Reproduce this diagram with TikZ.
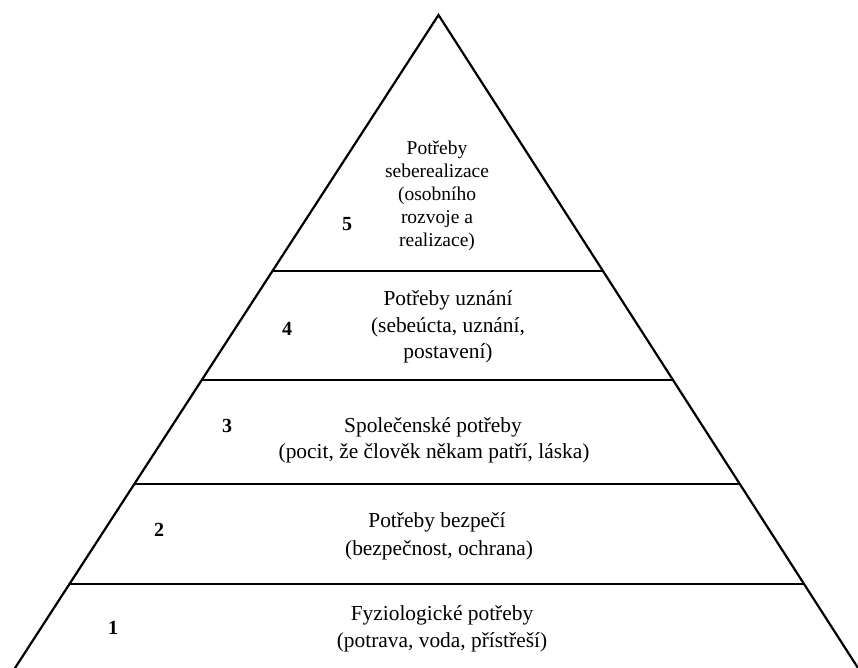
\documentclass[tikz,border=0pt]{standalone}
\usepackage{fontspec}
\setmainfont{Liberation Serif}
\begin{document}
\begin{tikzpicture}[x=1pt,y=-1pt,
  edge/.style={line width=2.2pt,line cap=round,line join=miter},
  sep/.style={line width=1.2pt},
  big/.style={inner sep=0pt,anchor=base,font=\fontsize{21.4}{26.5}\selectfont},
  small/.style={inner sep=0pt,anchor=base,font=\fontsize{19.5}{22.75}\selectfont},
  num/.style={inner sep=0pt,anchor=base,font=\fontsize{20}{24}\selectfont\bfseries}]
\useasboundingbox (0,0) rectangle (858,668);
% triangle corners
\coordinate (apex) at (438.5,15);
\coordinate (bl) at (15,668);
\coordinate (br) at (858,668);
% level separators
\foreach \n/\y in {a/271,b/380,c/484,d/584}{
  \path (apex) -- (bl) coordinate[pos={(\y-15)/653}] (L\n);
  \path (apex) -- (br) coordinate[pos={(\y-15)/653}] (R\n);
  \draw[sep] (L\n) -- (R\n);
}
\draw[edge] (bl) -- (apex) -- (br);
% level 5
\node[small] (t5a) at (437,155) {Potřeby};
\node[small] (t5b) at (437,177.75) {seberealizace};
\node[small] (t5c) at (437,200.5) {(osobního};
\node[small] (t5d) at (437,223.25) {rozvoje a};
\node[small] (t5e) at (437,246) {realizace)};
\node[num] (n5) at (347,230) {5};
% level 4
\node[big] (t4a) at (448,305) {Potřeby uznání};
\node[big] (t4b) at (448,332) {(sebeúcta, uznání,};
\node[big] (t4c) at (448,358) {postavení)};
\node[num] (n4) at (287,335) {4};
% level 3
\node[big] (t3a) at (433,432) {Společenské potřeby};
\node[big] (t3b) at (434,458) {(pocit, že člověk někam patří, láska)};
\node[num] (n3) at (227,432) {3};
% level 2
\node[big] (t2a) at (437,527) {Potřeby bezpečí};
\node[big] (t2b) at (439,555) {(bezpečnost, ochrana)};
\node[num] (n2) at (159,536) {2};
% level 1
\node[big] (t1a) at (442,620) {Fyziologické potřeby};
\node[big] (t1b) at (442,647) {(potrava, voda, přístřeší)};
\node[num] (n1) at (113,634) {1};
\end{tikzpicture}
\end{document}
